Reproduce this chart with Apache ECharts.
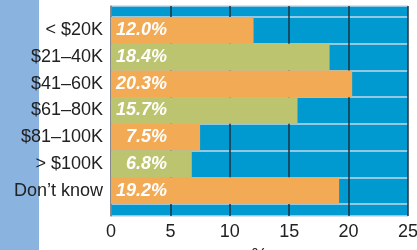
<!DOCTYPE html>
<html><head><meta charset="utf-8">
<script src="https://cdn.jsdelivr.net/npm/echarts@6/dist/echarts.min.js"></script>
<style>html,body{margin:0;padding:0;background:#fff}#c{width:417px;height:250px}</style>
</head><body><div id="c"></div>
<script>
var categories = ['< $20K', '$21–40K', '$41–60K', '$61–80K', '$81–100K', '> $100K', 'Don’t know'];
var values = [12.0, 18.4, 20.3, 15.7, 7.5, 6.8, 19.2];
var barColors = ['#F2AA55', '#BDC46F', '#F2AA55', '#BDC46F', '#F2AA55', '#BDC46F', '#F2AA55'];
var xTicks = [0, 5, 10, 15, 20, 25];

var font = 'Liberation Sans, Arial, sans-serif';
var chart = echarts.init(document.getElementById('c'), null, {renderer: 'canvas'});
chart.setOption({
  animation: false,
  textStyle: {fontFamily: font},
  graphic: [{type: 'rect', left: 0, top: 0, z: -10, shape: {width: 39, height: 250}, style: {fill: '#8AB3E0'}}],
  grid: [
    {left: 111, width: 297, top: 6, height: 210, show: true, backgroundColor: '#0099D0', borderWidth: 0, containLabel: false, outerBoundsMode: 'none'},
    {left: 111, width: 297, top: 17, height: 187, show: false, containLabel: false, outerBoundsMode: 'none'}
  ],
  xAxis: [
    {gridIndex: 0, type: 'value', min: xTicks[0], max: xTicks[xTicks.length - 1], interval: 5,
     axisLine: {show: false}, axisTick: {show: false},
     splitLine: {show: true, lineStyle: {color: '#1d3340', width: 1.5}},
     axisLabel: {fontSize: 18, color: '#222', margin: 7, fontFamily: font},
     name: '%', nameLocation: 'middle', nameGap: 31, nameTextStyle: {fontSize: 18, color: '#222', fontFamily: font}},
    {gridIndex: 1, type: 'value', min: xTicks[0], max: xTicks[xTicks.length - 1], show: false}
  ],
  yAxis: [
    {gridIndex: 0, type: 'value', min: 0, max: 1, interval: 1,
     axisLine: {show: true, lineStyle: {color: '#999', width: 1.5}}, axisTick: {show: false}, axisLabel: {show: false},
     splitLine: {show: true, lineStyle: {color: '#c4d8ea', width: 1.5}}},
    {gridIndex: 1, type: 'category', inverse: true, data: categories,
     axisLine: {show: false}, axisTick: {show: false},
     axisLabel: {fontSize: 18, color: '#222', margin: 8, fontFamily: font},
     splitLine: {show: true, lineStyle: {color: '#c4d8ea', width: 1.5}}}
  ],
  series: [{
    type: 'bar', xAxisIndex: 1, yAxisIndex: 1, barWidth: '100%',
    data: values.map(function (v, i) { return {value: v, itemStyle: {color: barColors[i]}}; }),
    label: {show: true, position: [56, '50%'], align: 'right', verticalAlign: 'middle',
      color: '#fff', fontStyle: 'italic', fontWeight: 'bold', fontSize: 18, fontFamily: font,
      formatter: function (p) { return p.value.toFixed(1) + '%'; }}
  }]
});
</script></body></html>
